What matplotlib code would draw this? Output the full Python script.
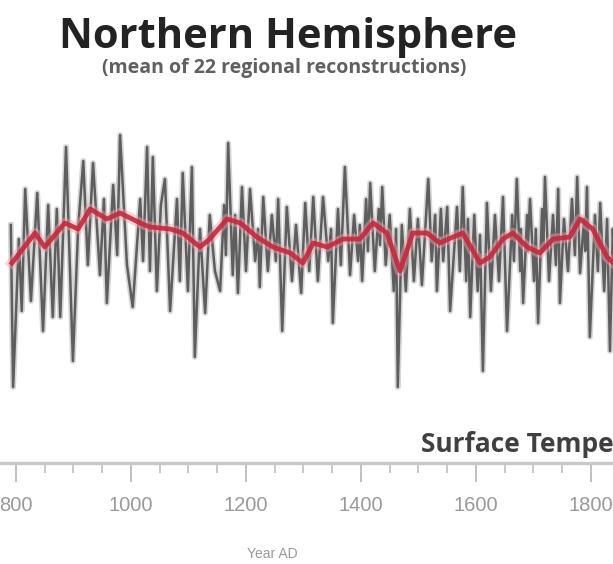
import matplotlib
matplotlib.use("Agg")
import matplotlib.pyplot as plt
from matplotlib.ticker import MultipleLocator

# Annual reconstruction (spiky series): years and temperature anomaly (deg C)
years = [791, 795, 805, 810, 816, 826, 837, 847, 856, 864, 871, 877, 887, 899, 908, 917, 925, 934,
         946, 953, 958, 969, 976, 981, 993, 1003, 1016, 1021, 1028, 1033, 1038, 1045, 1052, 1059,
         1068, 1080, 1085, 1090, 1099, 1106, 1111, 1120, 1129, 1137, 1146, 1155, 1162, 1165, 1169,
         1177, 1181, 1186, 1193, 1200, 1207, 1216, 1221, 1224, 1230, 1238, 1245, 1252, 1256, 1263,
         1271, 1280, 1287, 1296, 1303, 1310, 1317, 1325, 1334, 1343, 1348, 1351, 1360, 1365, 1372,
         1381, 1388, 1395, 1398, 1402, 1409, 1412, 1416, 1424, 1431, 1433, 1437, 1443, 1450, 1457, 1461,
         1464, 1471, 1478, 1485, 1492, 1499, 1506, 1517, 1523, 1529, 1532, 1539, 1543, 1550, 1555,
         1567, 1572, 1577, 1583, 1586, 1590, 1597, 1603, 1607, 1612, 1619, 1626, 1633, 1640, 1647,
         1654, 1663, 1666, 1671, 1677, 1678, 1682, 1689, 1690, 1694, 1701, 1704, 1708, 1715, 1717,
         1720, 1727, 1734, 1739, 1743, 1746, 1753, 1760, 1767, 1772, 1776, 1781, 1788, 1790, 1793,
         1798, 1807, 1812, 1816, 1823, 1828, 1833, 1838, 1843]
annual = [0.10, -0.71, 0.03, -0.33, 0.28, -0.28, 0.26, -0.43, 0.20, -0.36, 0.18, -0.36, 0.49, -0.58,
          0.08, 0.42, -0.10, 0.41, -0.15, 0.23, -0.29, 0.30, -0.05, 0.55, -0.10, -0.31, 0.23, -0.08,
          0.49, -0.13, 0.44, -0.23, 0.20, 0.33, -0.33, 0.23, -0.18, 0.36, -0.23, 0.39, -0.56, 0.08,
          -0.34, 0.15, -0.13, -0.23, 0.20, -0.05, 0.51, -0.15, 0.15, -0.24, 0.29, -0.13, 0.28, -0.08,
          0.08, -0.21, 0.24, -0.13, 0.15, -0.08, 0.23, -0.43, 0.19, -0.18, 0.10, -0.24, 0.21, -0.13,
          0.24, -0.18, 0.24, -0.08, 0.08, -0.39, 0.18, -0.10, 0.39, -0.15, 0.15, -0.08, 0.10, -0.18,
          0.23, -0.03, 0.31, -0.13, 0.18, 0.00, 0.29, -0.10, 0.15, -0.23, 0.08, -0.71, 0.10, -0.23,
          0.18, -0.18, 0.13, -0.20, 0.33, -0.08, 0.15, -0.23, 0.18, -0.08, 0.19, -0.33, 0.19, -0.13,
          0.29, -0.18, 0.13, -0.36, 0.15, -0.23, 0.05, -0.63, 0.21, -0.23, 0.15, -0.18, 0.24, -0.43,
          0.15, -0.08, 0.33, -0.13, 0.08, -0.29, 0.15, -0.03, 0.23, -0.18, 0.08, -0.39, 0.18, -0.03,
          0.34, -0.18, 0.15, -0.10, 0.28, -0.29, 0.13, -0.13, 0.23, -0.05, 0.34, -0.14, 0.13, -0.03,
          0.29, -0.46, 0.15, -0.13, 0.21, -0.23, 0.13, -0.53, 0.08, -0.28]

# Smoothed mean (red)
smooth_years = [793, 833, 850, 885, 908, 929, 958, 981, 1016, 1033, 1068, 1090, 1120, 1137, 1167,
                1190, 1219, 1247, 1277, 1299, 1317, 1341, 1369, 1398, 1421, 1445, 1468, 1490, 1515,
                1537, 1560, 1577, 1607, 1624, 1647, 1664, 1689, 1711, 1734, 1763, 1781, 1803, 1828,
                1843]
smooth = [-0.09, 0.06, -0.01, 0.11, 0.08, 0.18, 0.13, 0.16, 0.11, 0.09, 0.08, 0.06, -0.01, 0.03,
          0.13, 0.11, 0.04, -0.01, -0.04, -0.09, 0.01, -0.01, 0.03, 0.03, 0.11, 0.06, -0.13, 0.06,
          0.06, 0.01, 0.04, 0.06, -0.09, -0.06, 0.03, 0.06, -0.01, -0.04, 0.03, 0.04, 0.13, 0.08,
          -0.06, -0.10]

tick_years = [800, 1000, 1200, 1400, 1600, 1800]
tick_labels = [str(y) for y in tick_years]

W, H = 613, 564
fig = plt.figure(figsize=(W / 100, H / 100), dpi=100)
fig.patch.set_facecolor("white")

ax = fig.add_axes([0, 1 - 463 / H, 1, (463 - 100) / H])
ax.set_xlim(772.2, 1838.3)
ax.set_ylim(-1.09, 0.725)

ax.plot(years, annual, color="#b4b4b4", lw=4.2, alpha=0.55, zorder=1)
ax.plot(years, annual, color="#404040", lw=1.8, alpha=0.8, zorder=2)
ax.plot(smooth_years, smooth, color="#f0a0aa", lw=7.5, alpha=0.45, zorder=3)
ax.plot(smooth_years, smooth, color="#c4283c", lw=3.4, alpha=0.9, zorder=4)

for s in ["top", "left", "right"]:
    ax.spines[s].set_visible(False)
ax.spines["bottom"].set_color("#c8c8c8")
ax.spines["bottom"].set_linewidth(2.4)
ax.set_yticks([])
ax.set_xticks(tick_years)
ax.xaxis.set_minor_locator(MultipleLocator(50))
ax.tick_params(axis="x", which="major", direction="out", length=14, width=1.4,
               color="#c0c0c0", pad=10, labelsize=14.5, labelcolor="#9a9a9a")
ax.tick_params(axis="x", which="minor", direction="out", length=7, width=1.4, color="#c8c8c8")
ax.set_xticklabels(tick_labels, family=["Liberation Sans", "DejaVu Sans"])
ax.patch.set_alpha(0)

fig.text(288 / W, 1 - 37 / H, "Northern Hemisphere", ha="center", va="center",
         fontsize=30, fontweight="bold", color="#232323", family=["Open Sans", "DejaVu Sans"])
fig.text(284 / W, 1 - 68 / H, "(mean of 22 regional reconstructions)", ha="center", va="center",
         fontsize=14, fontweight="bold", color="#606060", family=["Open Sans", "DejaVu Sans"])
fig.text(421 / W, 1 - 444 / H, "Surface Temperature", ha="left", va="center",
         fontsize=19, fontweight="bold", color="#404040", family=["Open Sans", "DejaVu Sans"])
fig.text(272 / W, 1 - 554 / H, "Year AD", ha="center", va="center",
         fontsize=10, color="#9a9a9a", family=["Liberation Sans", "DejaVu Sans"])

fig.savefig("out.png", dpi=100, facecolor="white")
